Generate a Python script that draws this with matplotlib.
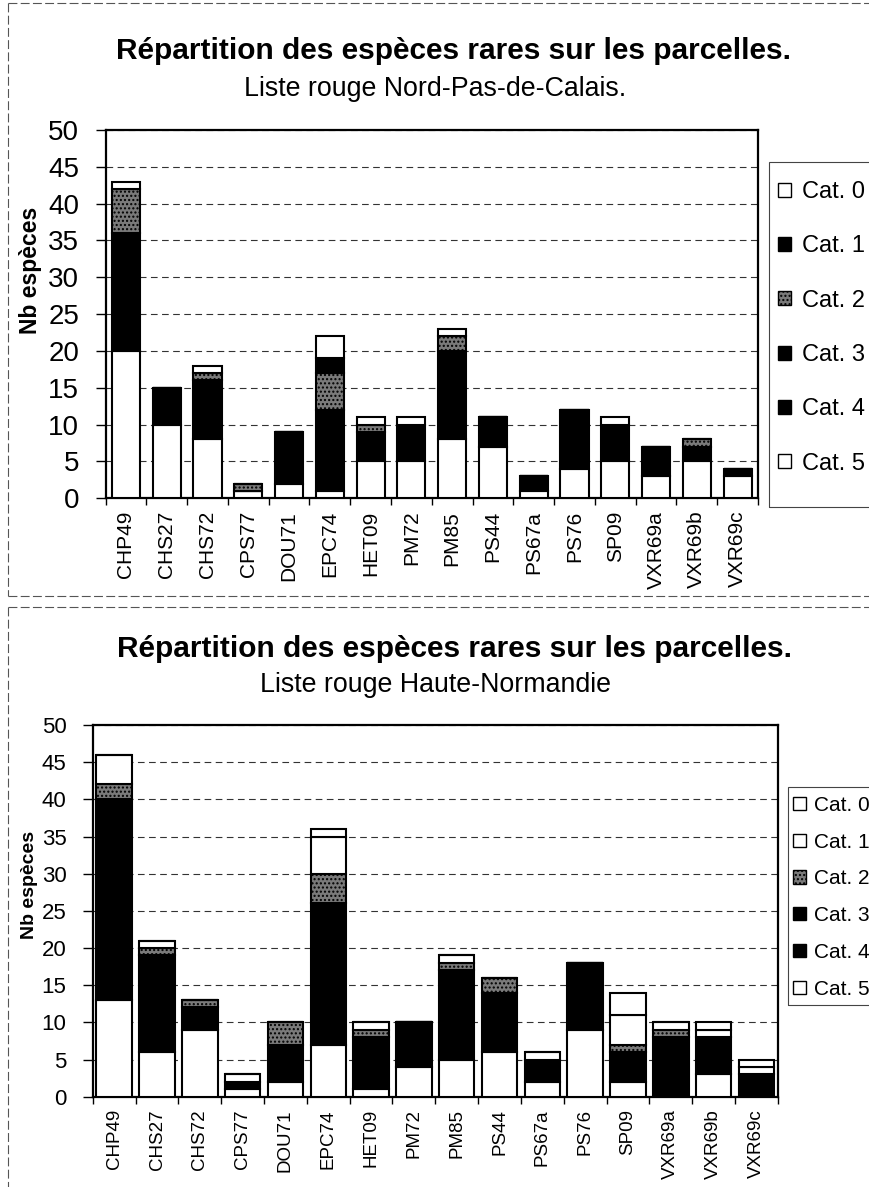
import numpy as np
import matplotlib
matplotlib.use('Agg')
from matplotlib import pyplot as plt
import matplotlib.patches as mpatches
from matplotlib.lines import Line2D

plt.rcParams['font.family'] = ['Liberation Sans', 'DejaVu Sans']
plt.rcParams['hatch.linewidth'] = 1.0

parcelles = ['CHP49', 'CHS27', 'CHS72', 'CPS77', 'DOU71', 'EPC74', 'HET09', 'PM72',
             'PM85', 'PS44', 'PS67a', 'PS76', 'SP09', 'VXR69a', 'VXR69b', 'VXR69c']
cat_labels = ['Cat. 0', 'Cat. 1', 'Cat. 2', 'Cat. 3', 'Cat. 4', 'Cat. 5']
y_ticks = [0, 5, 10, 15, 20, 25, 30, 35, 40, 45, 50]

# Liste rouge Nord-Pas-de-Calais
npc_cat0 = [1, 0, 1, 0, 0, 3, 1, 1, 1, 0, 0, 0, 1, 0, 0, 0]
npc_cat1 = [0, 0, 0, 0, 0, 2, 0, 0, 0, 0, 0, 0, 0, 0, 0, 0]
npc_cat2 = [6, 0, 1, 1, 0, 5, 1, 0, 2, 0, 0, 0, 0, 0, 1, 0]
npc_cat3 = [0, 0, 0, 0, 0, 0, 0, 0, 0, 0, 0, 0, 0, 0, 0, 0]
npc_cat4 = [16, 5, 8, 0, 7, 11, 4, 5, 12, 4, 2, 8, 5, 4, 2, 1]
npc_cat5 = [20, 10, 8, 1, 2, 1, 5, 5, 8, 7, 1, 4, 5, 3, 5, 3]

# Liste rouge Haute-Normandie
hn_cat0 = [0, 0, 0, 0, 0, 1, 0, 0, 0, 0, 0, 0, 3, 0, 1, 1]
hn_cat1 = [4, 1, 0, 1, 0, 5, 1, 0, 1, 0, 1, 0, 4, 1, 1, 1]
hn_cat2 = [2, 1, 1, 0, 3, 4, 1, 0, 1, 2, 0, 0, 1, 1, 0, 0]
hn_cat3 = [0, 0, 0, 0, 0, 0, 0, 0, 0, 0, 0, 0, 0, 0, 0, 0]
hn_cat4 = [27, 13, 3, 1, 5, 19, 7, 6, 12, 8, 3, 9, 4, 8, 5, 3]
hn_cat5 = [13, 6, 9, 1, 2, 7, 1, 4, 5, 6, 2, 9, 2, 0, 3, 0]

W, H = 869, 1187
WHITE = dict(facecolor='white', edgecolor='black')
BLACK = dict(facecolor='black', edgecolor='black')
GREY = dict(facecolor='#7a7a7a', edgecolor='black', hatch='....')


def fx(px):
    return px / W


def fy(py):
    return 1 - py / H


def draw_panel(ax, series, styles, width, ytick_size, xtick_size):
    x = np.arange(len(parcelles))
    bottom = np.zeros(len(parcelles))
    # stacked from Cat. 5 (bottom) up to Cat. 0 (top)
    for i in range(5, -1, -1):
        vals = np.array(series[i], dtype=float)
        ax.bar(x, vals, width, bottom=bottom, linewidth=1.5, zorder=3, **styles[i])
        bottom += vals
    ax.set_xlim(-0.5, len(parcelles) - 0.5)
    ax.set_ylim(0, 50)
    ax.set_yticks(y_ticks)
    ax.set_yticklabels([str(v) for v in y_ticks], fontsize=ytick_size)
    ax.set_xticks(x)
    ax.set_xticklabels(parcelles, rotation=90, fontsize=xtick_size)
    ax.set_xticks(np.arange(-0.5, len(parcelles)), minor=True)
    ax.tick_params(axis='x', which='major', length=0, pad=9)
    ax.tick_params(axis='x', which='minor', length=5, width=1)
    ax.tick_params(axis='y', length=7, width=1, pad=12)
    ax.grid(axis='y', color='#333333', linewidth=0.8, linestyle=(0, (6, 4)), zorder=1)
    for s in ax.spines.values():
        s.set_linewidth(1.6)
        s.set_color('black')


def legend_box(x0, y0, y1):
    # legend frame drawn by hand, it runs off the right edge like the scan
    fig.add_artist(mpatches.Rectangle((fx(x0), fy(y1)), fx(W + 20 - x0), (y1 - y0) / H,
                                      facecolor='none', edgecolor='#444444', linewidth=0.8))


fig = plt.figure(figsize=(W / 100, H / 100), dpi=100)

# panel borders
for seg in [((8, 3), (869, 3)), ((8, 3), (8, 596)), ((8, 596), (869, 596)),
            ((8, 607), (869, 607)), ((8, 607), (8, 1187))]:
    (x0, y0), (x1, y1) = seg
    fig.add_artist(Line2D([fx(x0), fx(x1)], [fy(y0), fy(y1)], color='#555555',
                          linewidth=0.8, linestyle=(0, (8, 3))))

# top chart
ax1 = fig.add_axes([fx(105.5), fy(498.3), fx(652.5), 368.3 / H])
top_styles = [WHITE, BLACK, GREY, BLACK, BLACK, WHITE]
draw_panel(ax1, [npc_cat0, npc_cat1, npc_cat2, npc_cat3, npc_cat4, npc_cat5],
           top_styles, 0.69, 20, 15)
fig.text(fx(453), fy(59), 'Répartition des espèces rares sur les parcelles.',
         ha='center', va='baseline', fontsize=21.5, fontweight='bold')
fig.text(fx(435), fy(96), 'Liste rouge Nord-Pas-de-Calais.',
         ha='center', va='baseline', fontsize=19.3)
fig.text(fx(31), fy(270), 'Nb espèces', rotation=90, ha='center', va='center',
         fontsize=16.5, fontweight='bold')
h1 = [mpatches.Patch(linewidth=1, label=lab, **st) for lab, st in zip(cat_labels, top_styles)]
legend_box(769, 162, 507)
fig.legend(handles=h1, loc='upper left', bbox_to_anchor=(fx(778), fy(181)),
           frameon=False, fontsize=17,
           handlelength=0.55, handleheight=0.55, handletextpad=0.45,
           labelspacing=1.37, borderpad=0, borderaxespad=0)

# bottom chart
ax2 = fig.add_axes([fx(92.8), fy(1096.7), fx(685), 371.7 / H])
bot_styles = [WHITE, WHITE, GREY, BLACK, BLACK, WHITE]
draw_panel(ax2, [hn_cat0, hn_cat1, hn_cat2, hn_cat3, hn_cat4, hn_cat5],
           bot_styles, 0.83, 16, 13.5)
fig.text(fx(454), fy(657), 'Répartition des espèces rares sur les parcelles.',
         ha='center', va='baseline', fontsize=21.5, fontweight='bold')
fig.text(fx(435), fy(692), 'Liste rouge Haute-Normandie',
         ha='center', va='baseline', fontsize=19.3)
fig.text(fx(30), fy(885), 'Nb espèces', rotation=90, ha='center', va='center',
         fontsize=14, fontweight='bold')
h2 = [mpatches.Patch(linewidth=1, label=lab, **st) for lab, st in zip(cat_labels, bot_styles)]
legend_box(788, 787, 1005)
fig.legend(handles=h2, loc='upper left', bbox_to_anchor=(fx(793), fy(796)),
           frameon=False, fontsize=15,
           handlelength=0.6, handleheight=0.6, handletextpad=0.4,
           labelspacing=0.85, borderpad=0, borderaxespad=0)

fig.savefig('out.png', dpi=100)
